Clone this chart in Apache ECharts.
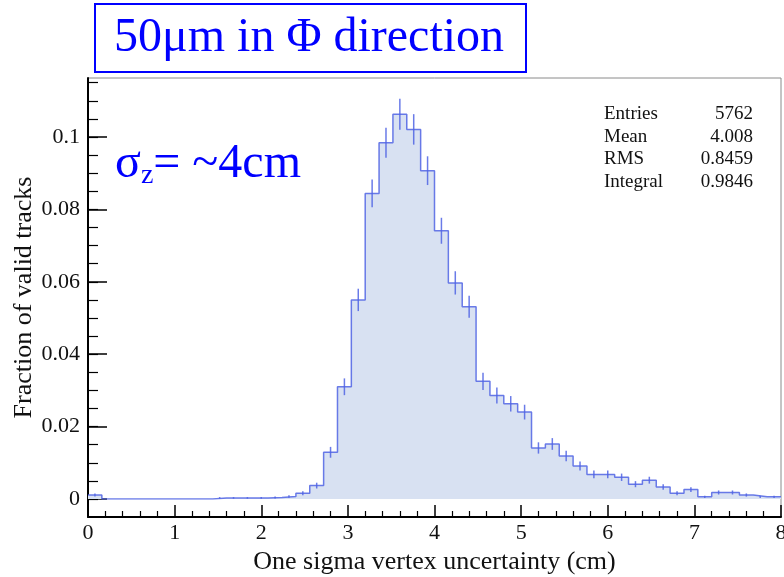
<!DOCTYPE html>
<html>
<head>
<meta charset="utf-8">
<script src="https://cdn.jsdelivr.net/npm/echarts@6/dist/echarts.min.js"></script>
<style>
  html, body { margin: 0; padding: 0; background: #ffffff; }
  #chart { width: 784px; height: 577px; }
</style>
</head>
<body>
<div id="chart"></div>
<script>
// Histogram binning: 50 equal bins over [0, 8] cm
const xLow = 0;
const xHigh = 8;
const nBins = 50;

// Fraction of valid tracks per bin
const binValues = [
  0.0011, 0, 0, 0, 0, 0, 0, 0, 0, 0.0003,
  0.0003, 0.0003, 0.0003, 0.0004, 0.0007, 0.0016, 0.0037, 0.0129, 0.0310, 0.0550,
  0.0844, 0.0984, 0.1063, 0.1021, 0.0907, 0.0741, 0.0597, 0.0531, 0.0325, 0.0286,
  0.0263, 0.0240, 0.0141, 0.0152, 0.0119, 0.0091, 0.0068, 0.0068, 0.0060, 0.0041,
  0.0052, 0.0033, 0.0016, 0.0026, 0.0006, 0.0018, 0.0018, 0.0011, 0.0006, 0.0006
];

// Statistical uncertainty per bin (half-length of the error bar)
const binErrors = [
  0.00044, 0, 0, 0, 0, 0, 0, 0, 0, 0.00023,
  0.00023, 0.00023, 0.00023, 0.00026, 0.00035, 0.00053, 0.00080, 0.00150, 0.00232, 0.00309,
  0.00383, 0.00413, 0.00430, 0.00421, 0.00397, 0.00359, 0.00322, 0.00304, 0.00237, 0.00223,
  0.00214, 0.00204, 0.00156, 0.00162, 0.00144, 0.00126, 0.00109, 0.00109, 0.00102, 0.00084,
  0.00095, 0.00076, 0.00053, 0.00067, 0.00032, 0.00056, 0.00056, 0.00044, 0.00032, 0.00032
];

// Statistics box
const statNames = ['Entries', 'Mean', 'RMS', 'Integral'];
const statValues = ['5762', '4.008', '0.8459', '0.9846'];

// Axis settings
const yMajorStep = 0.02;
const yMinorStep = 0.005;
const yMajorTop = 0.1;
const yMinorTop = 0.115;

const serif = "'Liberation Serif', 'Times New Roman', serif";
const lineColor = 'rgba(80, 100, 228, 0.85)';
const fillColor = '#d8e1f2';
const inkColor = '#111111';
const blue = '#0000ff';

const binWidth = (xHigh - xLow) / nBins;
const stepPoints = binValues.map((v, i) => [xLow + i * binWidth, v]);
stepPoints.push([xHigh, binValues[nBins - 1]]);
const errorItems = binValues.map((v, i) => [xLow + (i + 0.5) * binWidth, v, binErrors[i]]);

// pixel geometry of the frame: zero line sits above the bottom axis
const frame = { left: 88, right: 3, top: 78, bottom: 60 };
const zeroBottom = 78;
const pxPerUnit = 72.4 / 0.02;
const statTop = 103;
const statRow = 22.5;

const chart = echarts.init(document.getElementById('chart'), null, { renderer: 'canvas' });

const statGraphics = [{
  type: 'text', left: 604, top: statTop,
  style: { text: statNames.join('\n'), fontFamily: serif, fontSize: 19, lineHeight: statRow, fill: inkColor }
}].concat(statValues.map((s, i) => ({
  type: 'text', right: 31, top: statTop + i * statRow,
  style: { text: s, fontFamily: serif, fontSize: 19, lineHeight: statRow, fill: inkColor }
})));

chart.setOption({
  animation: false,
  backgroundColor: '#ffffff',
  title: [{
    text: '50μm in Φ direction',
    left: 95,
    top: 4,
    padding: [10, 22, 10, 19],
    borderColor: blue,
    borderWidth: 2,
    textStyle: { fontFamily: serif, fontSize: 48, fontWeight: 'normal', color: blue }
  }],
  grid: [
    { // outer frame
      left: frame.left, right: frame.right, top: frame.top, bottom: frame.bottom,
      outerBoundsMode: 'none', containLabel: false,
      show: true, borderColor: '#8a8a8a', borderWidth: 1, backgroundColor: 'transparent'
    },
    { // data area, minor y ticks
      left: frame.left, right: frame.right,
      top: 577 - zeroBottom - yMinorTop * pxPerUnit, bottom: zeroBottom,
      outerBoundsMode: 'none', containLabel: false
    },
    { // major y ticks and labels
      left: frame.left, right: frame.right,
      top: 577 - zeroBottom - yMajorTop * pxPerUnit, bottom: zeroBottom,
      outerBoundsMode: 'none', containLabel: false
    }
  ],
  xAxis: [
    {
      gridIndex: 0, type: 'value', min: xLow, max: xHigh, interval: 1,
      name: 'One sigma vertex uncertainty (cm)', nameLocation: 'middle', nameGap: 32,
      nameTextStyle: { fontFamily: serif, fontSize: 26, color: inkColor },
      axisLine: { show: true, lineStyle: { color: '#000', width: 2 } },
      axisTick: { show: true, inside: true, length: 12, lineStyle: { color: '#000', width: 1.5 } },
      minorTick: { show: true, splitNumber: 5, length: 6, lineStyle: { color: '#000', width: 1.2 } },
      splitLine: { show: false },
      axisLabel: { fontFamily: serif, fontSize: 22, color: inkColor, margin: 5 }
    },
    { gridIndex: 1, type: 'value', min: xLow, max: xHigh, show: false },
    { gridIndex: 2, type: 'value', min: xLow, max: xHigh, show: false }
  ],
  yAxis: [
    {
      gridIndex: 0, type: 'value', min: 0, max: 1,
      name: 'Fraction of valid tracks', nameLocation: 'middle', nameGap: 51, nameRotate: 90,
      nameTextStyle: { fontFamily: serif, fontSize: 26, color: inkColor },
      axisLine: { show: true, lineStyle: { color: '#000', width: 2 } },
      axisTick: { show: false }, axisLabel: { show: false }, splitLine: { show: false }
    },
    {
      gridIndex: 1, type: 'value', min: 0, max: yMinorTop, interval: yMinorStep,
      axisLine: { show: false },
      axisTick: { show: true, inside: true, length: 10, lineStyle: { color: '#000', width: 1.2 } },
      axisLabel: { show: false }, splitLine: { show: false }
    },
    {
      gridIndex: 2, type: 'value', min: 0, max: yMajorTop, interval: yMajorStep,
      axisLine: { show: false },
      axisTick: { show: true, inside: true, length: 19, lineStyle: { color: '#000', width: 1.5 } },
      axisLabel: { fontFamily: serif, fontSize: 22, color: inkColor, margin: 8 },
      splitLine: { show: false }
    }
  ],
  graphic: [
    {
      type: 'text', left: 115, top: 138,
      style: {
        text: '{s|σ}{z|z}{s|= ~4cm}',
        rich: {
          s: { fontFamily: serif, fontSize: 48, fill: blue, lineHeight: 54 },
          z: { fontFamily: serif, fontSize: 28, fill: blue, lineHeight: 54, padding: [24, 0, 0, 0] }
        }
      }
    }
  ].concat(statGraphics),
  series: [
    {
      type: 'line', xAxisIndex: 1, yAxisIndex: 1,
      data: stepPoints, step: 'end', symbol: 'none',
      lineStyle: { color: lineColor, width: 1.5 },
      areaStyle: { color: fillColor, opacity: 1 },
      z: 2
    },
    {
      type: 'custom', xAxisIndex: 1, yAxisIndex: 1,
      data: errorItems,
      encode: { x: 0, y: 1 },
      renderItem: function (params, api) {
        const xc = api.value(0), v = api.value(1), e = api.value(2);
        if (!(e > 0)) return null;
        const lo = api.coord([xc, v - e]);
        const hi = api.coord([xc, v + e]);
        return {
          type: 'line',
          shape: { x1: lo[0], y1: lo[1], x2: hi[0], y2: hi[1] },
          style: { stroke: lineColor, lineWidth: 1.5 }
        };
      },
      z: 3
    }
  ]
});
</script>
</body>
</html>
